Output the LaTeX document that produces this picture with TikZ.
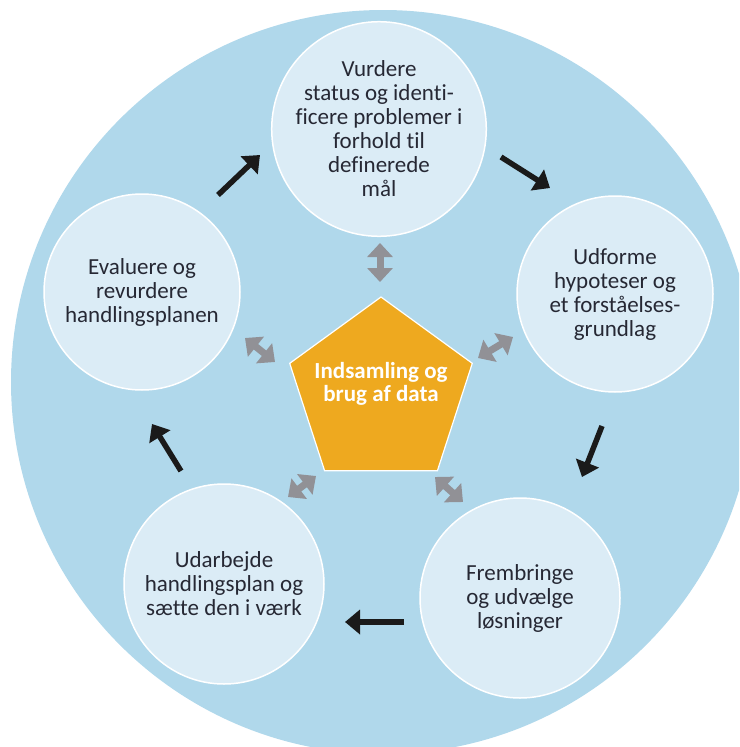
\documentclass[tikz,border=0pt]{standalone}
\usepackage{fontspec}
\setmainfont[Ligatures=NoCommon]{Carlito}
\usetikzlibrary{shapes.geometric,arrows.meta}
\definecolor{bigblue}{RGB}{176,216,235}
\definecolor{lightblue}{RGB}{219,236,246}
\definecolor{orangeP}{RGB}{238,169,31}
\definecolor{txt}{RGB}{38,40,52}
\definecolor{grayarr}{RGB}{145,145,150}
\definecolor{blackarr}{RGB}{26,26,26}
\begin{document}
\begin{tikzpicture}[x=1pt,y=-1pt,
  stage/.style={circle, draw=white, line width=1.5pt, fill=lightblue, inner sep=0pt,
    align=center, text=txt, font=\fontsize{23}{24}\selectfont},
  flow/.style={blackarr, line width=5.5pt, -{Triangle[length=15pt,width=24pt]}},
  link/.style={grayarr, line width=7pt,
    {Triangle[length=14pt,width=25pt]}-{Triangle[length=14pt,width=25pt]}}]
\path[use as bounding box] (0,0) rectangle (739,747);
\clip (0,0) rectangle (739,747);
\fill[bigblue] (383,382) circle[radius=372pt];

\node[stage, minimum size=196pt] (vurdere) at (379,129)
  {Vurdere\\status og identi-\\ficere problemer i\\forhold til\\definerede\\mål};
\node[stage, minimum size=196pt] (udforme) at (615,294)
  {Udforme\\hypoteser og\\et forståelses-\\grundlag};
\node[stage, minimum size=196pt] (evaluere) at (142,292)
  {Evaluere og\\revurdere\\handlingsplanen};
\node[stage, minimum size=200pt] (udarbejde) at (224,584)
  {Udarbejde\\handlingsplan og\\sætte den i værk};
\node[stage, minimum size=200pt] (frembringe) at (520,598)
  {Frembringe\\og udvælge\\løsninger};

\node[regular polygon, regular polygon sides=5, minimum size=192pt, inner sep=0pt,
  fill=orangeP, draw=white, line width=1.2pt] (data) at (381,393) {};
\node[align=center, text=white, font=\fontsize{23}{23}\selectfont\bfseries] (datatext) at (381,384)
  {Indsamling og\\brug af data};

% black flow arrows
\coordinate (f1a) at (218,195); \coordinate (f1b) at (260,155);
\coordinate (f2a) at (501,157); \coordinate (f2b) at (550,188);
\coordinate (f3a) at (602,426); \coordinate (f3b) at (582,477);
\coordinate (f4a) at (404,622); \coordinate (f4b) at (345,622);
\coordinate (f5a) at (181,471); \coordinate (f5b) at (152,424);
\draw[flow] (f1a) -- (f1b);
\draw[flow] (f2a) -- (f2b);
\draw[flow] (f3a) -- (f3b);
\draw[flow] (f4a) -- (f4b);
\draw[flow] (f5a) -- (f5b);

% grey double arrows
\coordinate (g1a) at (380,243); \coordinate (g1b) at (380,282);
\coordinate (g2a) at (245,338); \coordinate (g2b) at (275,362);
\coordinate (g3a) at (478,358); \coordinate (g3b) at (513,337);
\coordinate (g4a) at (288,497); \coordinate (g4b) at (316,476);
\coordinate (g5a) at (435,477); \coordinate (g5b) at (463,502);
\draw[link] (g1a) -- (g1b);
\draw[link] (g2a) -- (g2b);
\draw[link] (g3a) -- (g3b);
\draw[link] (g4a) -- (g4b);
\draw[link] (g5a) -- (g5b);
\end{tikzpicture}
\end{document}
